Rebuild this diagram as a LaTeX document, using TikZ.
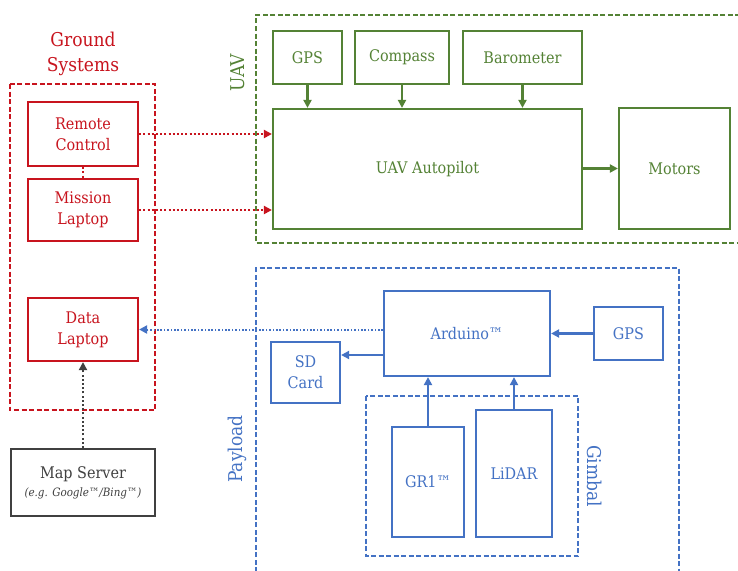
\documentclass[tikz,border=0pt]{standalone}
\usepackage{fontspec}
\setmainfont[FakeStretch=0.9]{DejaVu Serif}
\usetikzlibrary{arrows.meta,calc}
\definecolor{gsred}{RGB}{200,20,30}
\definecolor{uavgreen}{RGB}{84,130,53}
\definecolor{pblue}{RGB}{68,114,196}
\definecolor{mgray}{RGB}{64,64,64}
\tikzset{
  box/.style={draw, line width=2.2pt, align=center, inner sep=2pt,
    font=\fontsize{16}{21}\selectfont},
  grp/.style={line width=1.8pt, dash pattern=on 5pt off 2.5pt},
  arr/.style={line width=2.2pt, -{Triangle[length=8pt,width=8pt]}},
  dotarr/.style={line width=2.2pt, dash pattern=on 2pt off 2.2pt, -{Triangle[length=8pt,width=8pt]}},
  grplabel/.style={font=\fontsize{19}{25}\selectfont, align=center},
}
\begin{document}
\begin{tikzpicture}[x=1pt,y=-1pt]
\useasboundingbox (0,0) rectangle (738,570);
\fill[white] (0,0) rectangle (738,570);

% ---------------- Ground systems
\node[grplabel, text=gsred] (gstitle) at (83,54) {Ground\\Systems};
\draw[grp, gsred] (10,84) rectangle (155,410);
\node[box, gsred, minimum width=110, minimum height=64] (rc) at (83,134) {Remote\\Control};
\node[box, gsred, minimum width=110, minimum height=62] (ml) at (83,210) {Mission\\Laptop};
\node[box, gsred, minimum width=110, minimum height=63] (dl) at (83,329.5) {Data\\Laptop};
\node[box, mgray, minimum width=144, minimum height=67] (ms) at (83,482.5)
  {Map Server\\[-3pt]{\fontsize{11.5}{13}\selectfont\itshape (e.g. Google™/Bing™)}};

\draw[gsred, line width=2.2pt, dash pattern=on 2pt off 2.2pt] (rc.south) -- (ml.north);
\draw[dotarr, mgray] (ms.north) -- (dl.south);

% ---------------- UAV
\draw[grp, uavgreen] (740,15) -- (256,15) -- (256,243) -- (740,243);
\node[grplabel, text=uavgreen, rotate=90] (uavlbl) at (238,73) {UAV};
\node[box, uavgreen, minimum width=69, minimum height=53] (gps1) at (307.5,57.5) {GPS};
\node[box, uavgreen, minimum width=94, minimum height=53] (comp) at (402,57.5) {Compass};
\node[box, uavgreen, minimum width=119, minimum height=53] (baro) at (522.5,57.5) {Barometer};
\node[box, uavgreen, minimum width=309, minimum height=120] (ap) at (427.5,169) {UAV Autopilot};
\node[box, uavgreen, minimum width=111, minimum height=121] (mot) at (674.5,168.5) {Motors};

\draw[arr, uavgreen] (gps1.south) -- (gps1.south |- ap.north);
\draw[arr, uavgreen] (comp.south) -- (comp.south |- ap.north);
\draw[arr, uavgreen] (baro.south) -- (baro.south |- ap.north);
\draw[arr, uavgreen] (ap.east |- mot.west) -- (mot.west);

\draw[dotarr, gsred] (rc.east) -- (rc.east -| ap.west);
\draw[dotarr, gsred] (ml.east) -- (ml.east -| ap.west);

% ---------------- Payload
\draw[grp, pblue] (256,572) -- (256,268) -- (679,268) -- (679,572);
\node[grplabel, text=pblue, rotate=90] (pllbl) at (237,449) {Payload};
\node[box, pblue, minimum width=166, minimum height=85] (ard) at (467,333.5) {Arduino™};
\node[box, pblue, minimum width=69, minimum height=53] (gps2) at (628.5,333.5) {GPS};
\node[box, pblue, minimum width=69, minimum height=61] (sd) at (305.5,372.5) {SD\\Card};
\draw[grp, pblue] (366,396) rectangle (578,556);
\node[grplabel, text=pblue, rotate=-90] (gimlbl) at (595,476) {Gimbal};
\node[box, pblue, minimum width=72, minimum height=110] (gr1) at (428,482) {GR1™};
\node[box, pblue, minimum width=76, minimum height=127] (lid) at (514,473.5) {LiDAR};

\coordinate (sdp) at ([yshift=17.5pt]sd.east);
\draw[arr, pblue] (gps2.west) -- (gps2.west -| ard.east);
\draw[arr, pblue] (ard.west |- sdp) -- (sdp);
\draw[arr, pblue] (gr1.north) -- (gr1.north |- ard.south);
\draw[arr, pblue] (lid.north) -- (lid.north |- ard.south);
\draw[dotarr, pblue, line width=2pt, dash pattern=on 1.6pt off 1.8pt] (ard.west |- dl.east) -- (dl.east);
\end{tikzpicture}
\end{document}
